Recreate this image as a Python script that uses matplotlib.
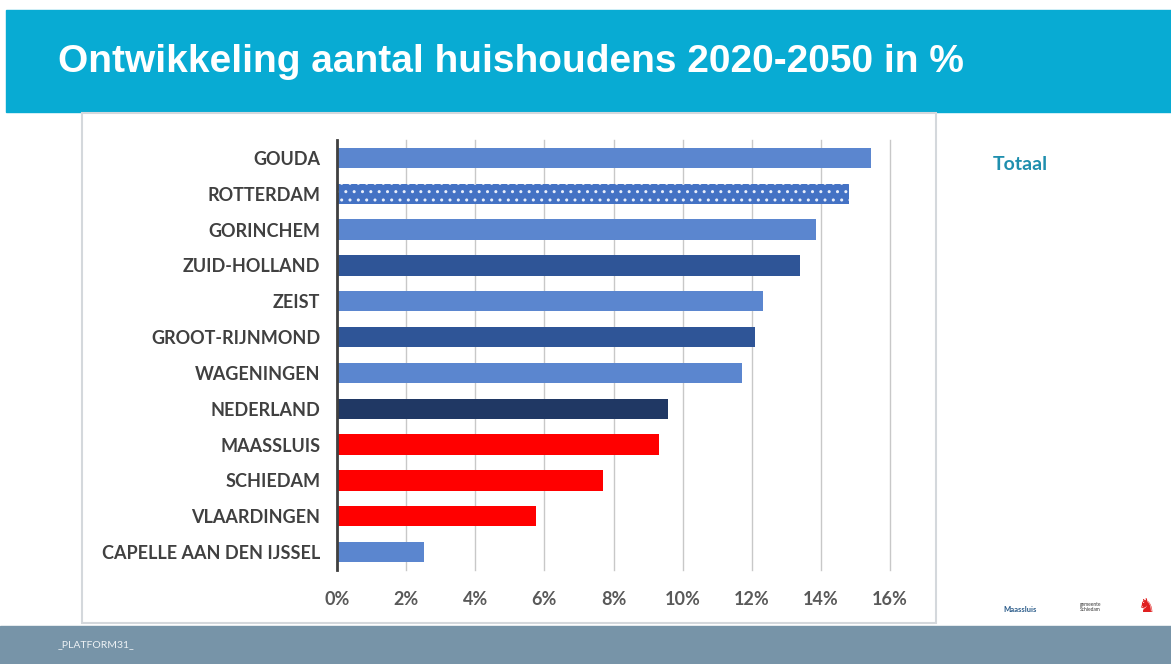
import matplotlib.pyplot as plt
from matplotlib.patches import Rectangle

# data, bovenaan = eerste
gemeenten = ["GOUDA", "ROTTERDAM", "GORINCHEM", "ZUID-HOLLAND", "ZEIST",
             "GROOT-RIJNMOND", "WAGENINGEN", "NEDERLAND", "MAASSLUIS",
             "SCHIEDAM", "VLAARDINGEN", "CAPELLE AAN DEN IJSSEL"]
groei = [15.45, 14.8, 13.85, 13.4, 12.33, 12.1, 11.72, 9.58, 9.32, 7.7, 5.76, 2.52]
kleuren = ["#5b86cf", "#4472c4", "#5b86cf", "#2f5597", "#5b86cf", "#2f5597",
           "#5b86cf", "#203864", "#ff0000", "#ff0000", "#ff0000", "#5b86cf"]
ticks = [0, 2, 4, 6, 8, 10, 12, 14, 16]

plt.rcParams['hatch.linewidth'] = 1.0

fig = plt.figure(figsize=(11.71, 6.64), dpi=100)
fig.patch.set_facecolor("white")

# banner bovenaan
fig.patches.append(Rectangle((6 / 1171, 1 - 112 / 664), 1, 102 / 664,
                             transform=fig.transFigure, color="#08abd3", zorder=-2))
fig.text(58 / 1171, 1 - 62 / 664, "Ontwikkeling aantal huishoudens 2020-2050 in %",
         color="white", fontsize=28, fontweight="bold", family="Liberation Sans",
         va="center", ha="left")

# grijze balk onderaan
fig.patches.append(Rectangle((0, 0), 1, 38 / 664, transform=fig.transFigure,
                             color="#7794a8", zorder=-2))
fig.text(58 / 1171, 19 / 664, "_PLATFORM31_", color="#eef2f5", fontsize=7.5,
         family="Lato", va="center", ha="left")

# kader rond grafiek
fig.patches.append(Rectangle((82 / 1171, 1 - 623 / 664), 854 / 1171, 510 / 664,
                             transform=fig.transFigure, facecolor="white",
                             edgecolor="#d4d8dc", linewidth=1.5, zorder=-2))

ax = fig.add_axes([337 / 1171, 1 - 570 / 664, 553 / 1171, 430 / 664])
ax.set_zorder(1)
ax.patch.set_visible(False)
y = list(range(len(gemeenten)))
bars = ax.barh(y, groei, height=0.57, color=kleuren, zorder=3)
bars[1].set_hatch("..")
bars[1].set_edgecolor("#e8eefa")
bars[1].set_linewidth(0)

ax.set_ylim(len(gemeenten) - 0.5, -0.5)
ax.set_xlim(0, 16)
ax.set_xticks(ticks)
ax.set_xticklabels([str(t) + "%" for t in ticks])
ax.set_yticks(y)
ax.set_yticklabels(gemeenten)
ax.grid(axis="x", color="#c8c8c8", linewidth=1, zorder=0)
for gl in ax.get_xgridlines():
    gl.set_clip_on(False)
ax.set_axisbelow(True)
for s in ["top", "right", "bottom"]:
    ax.spines[s].set_visible(False)
ax.spines["left"].set_color("#404040")
ax.spines["left"].set_linewidth(2)
ax.spines["left"].set_zorder(4)
ax.tick_params(axis="both", length=0)
ax.tick_params(axis="x", pad=15)
ax.tick_params(axis="y", pad=12)
for lab in ax.get_xticklabels():
    lab.set_fontfamily("Lato")
    lab.set_fontweight("bold")
    lab.set_fontsize(13)
    lab.set_color("#595959")
for lab in ax.get_yticklabels():
    lab.set_fontfamily("Lato")
    lab.set_fontweight("bold")
    lab.set_fontsize(13)
    lab.set_color("#404040")

fig.text(993 / 1171, 1 - 164 / 664, "Totaal", color="#1f8fae", fontsize=14,
         fontweight="bold", family="Lato", va="center", ha="left")

# logo's (als tekst)
fig.text(1003 / 1171, 1 - 610 / 664, "Maassluis", color="#2b5c8a", fontsize=5.5,
         fontweight="bold", family="Lato", va="center", ha="left")
fig.text(1080 / 1171, 1 - 607 / 664, "gemeente\nSchiedam", color="#333333",
         fontsize=3.5, family="Lato", va="center", ha="left", linespacing=1.0)
fig.text(1147 / 1171, 1 - 606 / 664, "♞", color="#e02020", fontsize=14,
         family="DejaVu Sans", va="center", ha="center")

fig.savefig("out.png", dpi=100)
